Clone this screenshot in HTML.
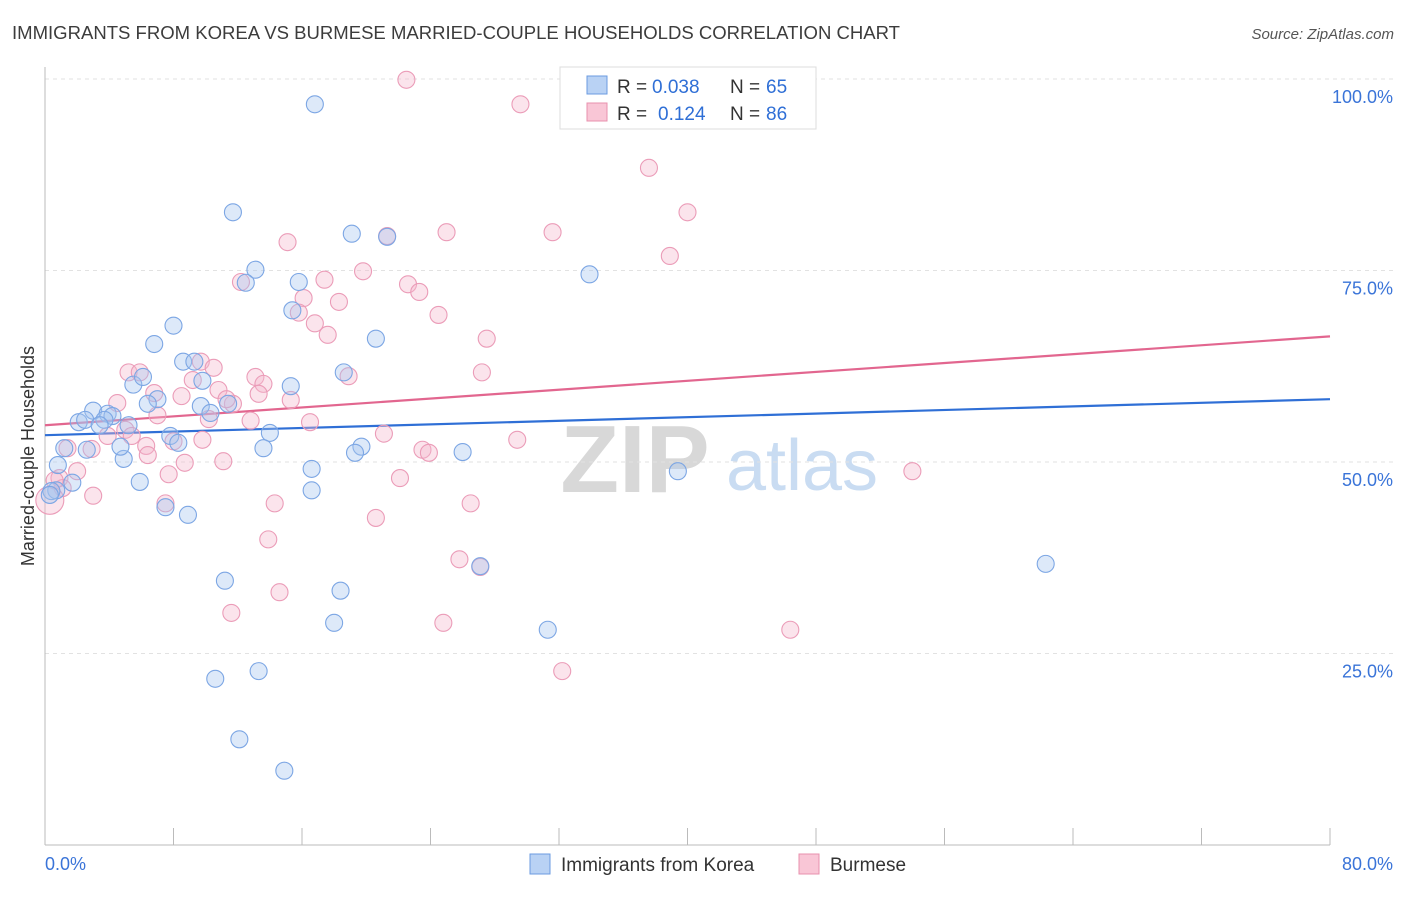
<!DOCTYPE html>
<html><head><meta charset="utf-8"><style>
body{margin:0;background:#fff;font-family:"Liberation Sans",sans-serif}
svg text{font-family:"Liberation Sans",sans-serif}
</style></head><body>
<svg id="chart" width="1406" height="892" viewBox="0 0 1406 892" xmlns="http://www.w3.org/2000/svg">
<text x="12" y="39" font-size="18" fill="#3c3c3c" textLength="888" lengthAdjust="spacingAndGlyphs">IMMIGRANTS FROM KOREA VS BURMESE MARRIED-COUPLE HOUSEHOLDS CORRELATION CHART</text>
<text x="1394" y="39" font-size="15" fill="#555" font-style="italic" text-anchor="end">Source: ZipAtlas.com</text>
<g>
<text x="635" y="492" font-size="96" fill="#d8d8d8" font-family="Liberation Serif,serif" text-anchor="middle" font-weight="bold">ZIP</text>
<text x="802" y="490" font-size="72" fill="#c9dcf2" text-anchor="middle">atlas</text>
</g>
<g id="grid"></g><g id="axes"></g><g id="lines"></g><g id="pts"></g>
<text transform="translate(34,456) rotate(-90)" font-size="18" fill="#333" text-anchor="middle">Married-couple Households</text>
<g>
<rect x="560" y="67" width="256" height="62" fill="#fff" stroke="#ddd"/>
<rect x="587" y="76" width="20" height="18" fill="#b9d2f4" stroke="#6b9be0"/>
<rect x="587" y="103" width="20" height="18" fill="#f9c6d6" stroke="#e890ae"/>
<text x="617" y="93" font-size="19" fill="#333">R =</text>
<text x="652" y="93" font-size="19" fill="#2f6fd6">0.038</text>
<text x="730" y="93" font-size="19" fill="#333">N =</text>
<text x="766" y="93" font-size="19" fill="#2f6fd6">65</text>
<text x="617" y="120" font-size="19" fill="#333">R =</text>
<text x="658" y="120" font-size="19" fill="#2f6fd6">0.124</text>
<text x="730" y="120" font-size="19" fill="#333">N =</text>
<text x="766" y="120" font-size="19" fill="#2f6fd6">86</text>
</g>
<g>
<rect x="530" y="854" width="20" height="20" fill="#b9d2f4" stroke="#6b9be0"/>
<text x="561" y="871" font-size="19" fill="#333">Immigrants from Korea</text>
<rect x="799" y="854" width="20" height="20" fill="#f9c6d6" stroke="#e890ae"/>
<text x="830" y="871" font-size="19" fill="#333">Burmese</text>
</g>
</svg>
<script>
const koreaX=[16.8,11.7,19.1,21.3,13.1,12.5,15.8,33.9,15.4,8.0,20.6,6.8,8.6,9.3,18.6,5.5,6.1,9.8,15.3,7.0,6.4,9.7,11.4,10.3,3.0,2.1,2.5,3.9,4.2,3.7,5.2,3.4,7.8,8.3,14.0,13.6,1.2,2.6,4.9,19.7,19.3,26.0,16.6,39.4,0.8,1.7,5.9,0.7,0.4,16.6,7.5,8.9,11.2,18.4,27.1,62.3,18.0,31.3,13.3,10.6,12.1,14.9,0.3,4.7];
const koreaY=[96.7,82.6,79.8,79.4,75.1,73.4,73.5,74.5,69.8,67.8,66.1,65.4,63.1,63.1,61.7,60.1,61.1,60.6,59.9,58.2,57.6,57.3,57.6,56.4,56.7,55.2,55.5,56.3,56.0,55.5,54.8,54.8,53.4,52.5,53.8,51.8,51.8,51.6,50.4,52.0,51.2,51.3,49.1,48.8,49.6,47.3,47.4,46.3,46.2,46.3,44.1,43.1,34.5,33.2,36.4,36.7,29.0,28.1,22.7,21.7,13.8,9.7,45.7,52.0];
const burX=[22.5,29.6,37.6,40.0,31.6,25.0,21.3,15.1,38.9,19.8,17.4,12.2,22.6,23.3,16.1,18.3,15.8,24.5,16.8,17.6,27.5,9.7,10.5,5.2,5.9,27.2,18.9,13.1,9.2,13.6,10.8,8.5,6.8,13.3,15.3,11.7,11.3,4.5,7.0,10.2,12.8,16.5,5.0,3.9,5.4,9.8,8.0,21.1,29.4,6.3,1.4,2.9,23.5,23.9,6.4,8.7,11.1,2.0,7.7,54.0,22.1,0.9,1.1,3.0,7.5,14.3,26.5,20.6,13.9,25.8,27.1,14.6,11.6,24.8,46.4,32.2,0.3,0.6];
const burY=[99.9,96.7,88.4,82.6,80.0,80.0,79.5,78.7,76.9,74.9,73.8,73.5,73.2,72.2,71.4,70.9,69.5,69.2,68.1,66.6,66.1,63.1,62.3,61.7,61.7,61.7,61.2,61.1,60.7,60.2,59.4,58.6,59.0,58.9,58.1,57.6,58.2,57.7,56.1,55.6,55.4,55.2,54.2,53.4,53.4,52.9,52.7,53.7,52.9,52.1,51.8,51.7,51.6,51.2,50.9,49.9,50.1,48.8,48.4,48.8,47.9,47.9,46.6,45.6,44.6,44.6,44.6,42.7,39.9,37.3,36.3,33.0,30.3,29.0,28.1,22.7,45.0,47.6];
const trendStart=[53.5,54.8];
const trendEnd=[58.2,66.4];
const yTicks=[25,50,75,100];
const yTickLabels=["25.0%","50.0%","75.0%","100.0%"];
const xTickLabels=["0.0%","80.0%"];
const NS="http://www.w3.org/2000/svg";
const sx=v=>45+v/80*1285, sy=v=>845-v*7.66;
function mk(tag,attrs,parent){const e=document.createElementNS(NS,tag);for(const k in attrs)e.setAttribute(k,attrs[k]);document.getElementById(parent).appendChild(e);return e;}
yTicks.forEach((t,i)=>{
 const g=mk('line',{x1:45,x2:1394,y1:sy(t),y2:sy(t),stroke:'#e2e2e2','stroke-dasharray':'4,4'},'grid');
 
 
 const l=mk('text',{x:1393,y:sy(t)+24,'font-size':18,fill:'#3a74d8','text-anchor':'end'},'grid');
 l.textContent=yTickLabels[i];
 
 
});
mk('line',{x1:45,x2:45,y1:67,y2:845,stroke:'#bbb'},'axes');
mk('line',{x1:45,x2:1330,y1:845,y2:845,stroke:'#bbb'},'axes');
for(let k=1;k<=10;k++){mk('line',{x1:45+k*128.5,x2:45+k*128.5,y1:828,y2:845,stroke:'#bbb'},'axes');}
[[0,'start',45],[80,'end',1393]].forEach((d,i)=>{
 const t=mk('text',{x:d[2],y:870,'font-size':18,fill:'#3a74d8','text-anchor':d[1]},'axes');
 t.textContent=xTickLabels[i];
 
 
});
const cols=[['#7ca6e4','rgba(165,198,240,0.38)'],['#eb9cb8','rgba(245,185,205,0.38)']];
[[burX,burY,1],[koreaX,koreaY,0]].forEach(([xs,ys,s])=>{
 xs.forEach((x,i)=>{
  const big=(s===1&&i===76);
  const c=mk('circle',{cx:sx(x),cy:sy(ys[i]),r:big?14:8.5,fill:cols[s][1],stroke:cols[s][0],'stroke-width':1.1},'pts');
  
  
 });
});
['#2f6fd6','#e2668f'].forEach((col,i)=>{
 const l=mk('line',{x1:sx(0),y1:sy(trendStart[i]),x2:sx(80),y2:sy(trendEnd[i]),stroke:col,'stroke-width':2.2},'lines');
 
 
});
</script>
</body></html>
